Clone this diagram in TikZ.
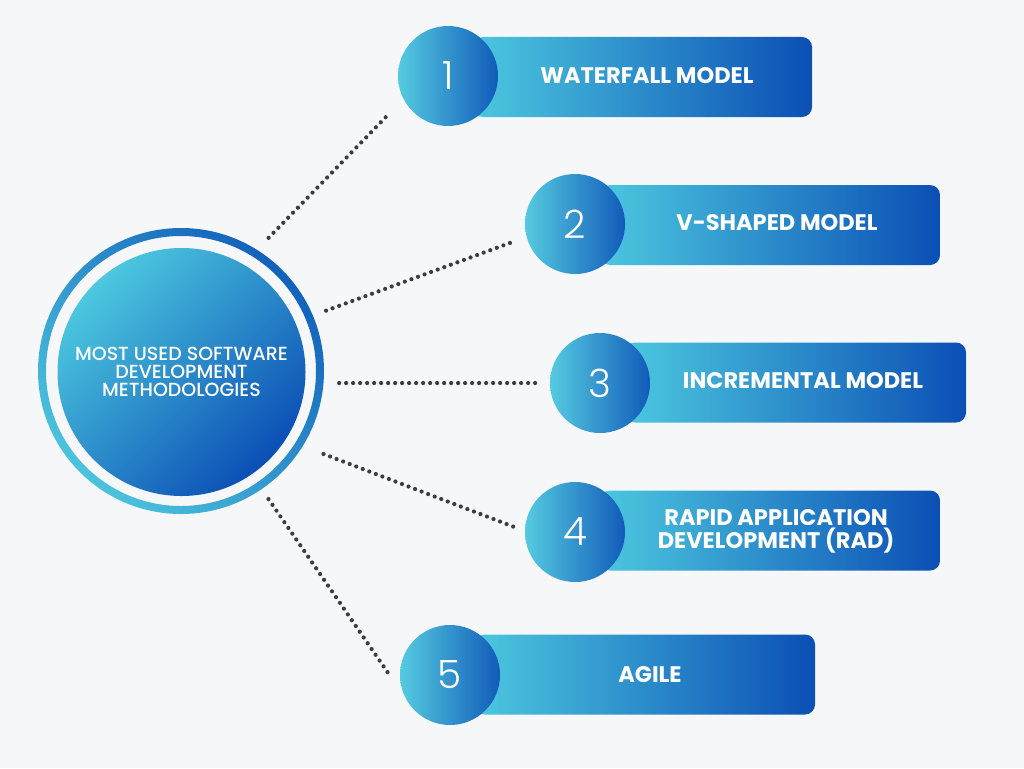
\documentclass[tikz,border=0pt]{standalone}
\usepackage{fontspec}
\setmainfont{Poppins}
\newfontfamily\numfont{Poppins Light}
\newfontfamily\medfont{Poppins Medium}
\usepackage{tikz}
\usetikzlibrary{calc}
\definecolor{bgcol}{HTML}{F6F7F9}
\definecolor{cyanl}{HTML}{4CC8DF}
\definecolor{blued}{HTML}{0B4FB5}
\definecolor{ringd}{HTML}{1262BB}
\definecolor{ringl}{HTML}{4CC3DD}
\definecolor{dotcol}{HTML}{3D3D3D}
\begin{document}
\begin{tikzpicture}[x=1pt, y=-1pt,
  bar/.style={rectangle, rounded corners=10pt, minimum height=80pt, left color=cyanl, right color=blued, inner sep=0pt},
  numcirc/.style={circle, minimum size=100pt, inner sep=0pt, left color=cyanl!95!white, right color=blued!90!cyanl, text=white, font=\numfont\fontsize{39}{39}\selectfont},
  bartext/.style={text=white, align=center, font=\bfseries\fontsize{22.5}{23}\selectfont},
  dotline/.style={dotcol, line width=4.2pt, line cap=round, dash pattern=on 0pt off 7pt}]
\fill[bgcol] (0,0) rectangle (1024,768);
\useasboundingbox (0,0) rectangle (1024,768);
% centre
\shade[even odd rule, top color=ringd, bottom color=ringl, shading angle=-45] (181,371) circle (143) circle (135);
\node[circle, minimum size=248pt, inner sep=0pt, top color=cyanl, bottom color=blued, shading angle=45, text=white, align=center, font=\medfont\fontsize{19}{18}\selectfont] (hub) at (181.5,372) {MOST USED SOFTWARE\\DEVELOPMENT\\METHODOLOGIES};
% bars
\node[bar, minimum width=339pt] (b1) at (642.5,77) {};
\node[bar, minimum width=340pt] (b2) at (770,225) {};
\node[bar, minimum width=341pt] (b3) at (795.5,382.5) {};
\node[bar, minimum width=340pt] (b4) at (770,530.5) {};
\node[bar, minimum width=340pt] (b5) at (645,674.5) {};
\node[numcirc] (n1) at (448,76) {1};
\node[numcirc] (n2) at (575,224) {2};
\node[numcirc] (n3) at (600,383) {3};
\node[numcirc] (n4) at (575,532) {4};
\node[numcirc] (n5) at (450,675) {5};
\node[bartext] (t1) at (647,75.5) {WATERFALL MODEL};
\node[bartext] (t2) at (777,223) {V-SHAPED MODEL};
\node[bartext] (t3) at (803,381) {INCREMENTAL MODEL};
\node[bartext] (t4) at (776,531) {RAPID APPLICATION\\DEVELOPMENT (RAD)};
\node[bartext] (t5) at (650,675) {AGILE};
% dotted links
\draw[dotline] ($(hub.center)+(-57:160)$) -- ($(n1.center)+(147:72)$);
\draw[dotline] ($(hub.center)+(-23:157)$) -- ($(n2.center)+(164:64)$);
\draw[dotline] ($(hub.center)+(4:158)$) -- ($(n3.center)+(180:59)$);
\draw[dotline] ($(hub.center)+(30:164)$) -- ($(n4.center)+(185:62)$);
\draw[dotline] ($(hub.center)+(55.6:154)$) -- ($(n5.center)+(182:62)$);
\end{tikzpicture}
\end{document}
